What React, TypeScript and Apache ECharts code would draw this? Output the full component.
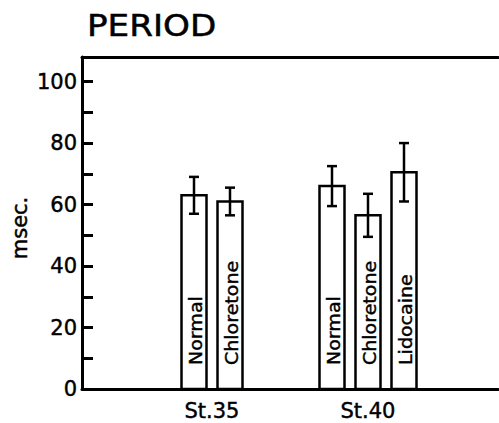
import React, { useEffect, useRef } from "react";
import * as echarts from "echarts";

// ---- data ----
const xSlots = ["", "", "St.35", "", "", "St.40", "", ""];
const groups = ["St.35", "St.40"];
const st35Labels = ["Normal", "Chloretone"];
const st35Means = [63, 61];
const st35Errors = [6, 4.5];
const st40Labels = ["Normal", "Chloretone", "Lidocaine"];
const st40Means = [66, 56.5, 70.5];
const st40Errors = [6.5, 7, 9.5];
const yLabelValues = [0, 20, 40, 60, 80, 100];
const yMax = 108;

const FONT = '"DejaVu Sans", "Liberation Sans", sans-serif';
const HEAVY = 0.45;

export default function App() {
  const ref = useRef<HTMLDivElement>(null);

  useEffect(() => {
    if (!ref.current) return;
    const chart = echarts.init(ref.current, undefined, { renderer: "svg" });

    const groupData = [
      { g: groups[0], labels: st35Labels, means: st35Means, errs: st35Errors },
      { g: groups[1], labels: st40Labels, means: st40Means, errs: st40Errors },
    ];
    const rows: number[][] = [];
    const names: string[] = [];
    groupData.forEach((gd) => {
      const xi = xSlots.indexOf(gd.g);
      gd.means.forEach((m, i) => {
        rows.push([xi, m, gd.errs[i], i, gd.means.length]);
        names.push(gd.labels[i]);
      });
    });

    const BAR_STEP = 36;
    const BW = 25;
    const CAP = 5;

    const option: any = {
      animation: false,
      grid: { left: 82, right: 1, top: 57, bottom: 34, containLabel: false },
      xAxis: [
        {
          type: "category",
          data: xSlots,
          position: "bottom",
          axisLine: { lineStyle: { color: "#000", width: 3 } },
          axisTick: { show: false },
          axisLabel: {
            interval: 0,
            color: "#000",
            fontSize: 21,
            fontFamily: FONT,
            margin: 11,
            textBorderColor: "#000",
            textBorderWidth: HEAVY,
          },
          splitLine: { show: false },
        },
        {
          type: "category",
          data: xSlots,
          position: "top",
          axisLine: { lineStyle: { color: "#000", width: 3 } },
          axisTick: { show: false },
          axisLabel: { show: false },
          splitLine: { show: false },
        },
      ],
      yAxis: {
        type: "value",
        min: 0,
        max: yMax,
        interval: 10,
        axisLine: { show: true, lineStyle: { color: "#000", width: 3 } },
        axisTick: {
          show: true,
          inside: true,
          length: 11,
          lineStyle: { color: "#000", width: 3 },
        },
        axisLabel: {
          color: "#000",
          fontSize: 21,
          fontFamily: FONT,
          margin: 5,
          textBorderColor: "#000",
          textBorderWidth: HEAVY,
          formatter: (v: number) => (yLabelValues.indexOf(v) >= 0 ? String(v) : ""),
        },
        splitLine: { show: false },
      },
      graphic: [
        {
          type: "text",
          x: 87,
          y: 26,
          scaleX: 1.14,
          style: {
            text: "PERIOD",
            font: `30px ${FONT}`,
            fill: "#000",
            stroke: "#000",
            lineWidth: 0.5,
            align: "left",
            verticalAlign: "middle",
          },
        },
        {
          type: "text",
          x: 20,
          y: 228,
          rotation: Math.PI / 2,
          style: {
            text: "msec.",
            font: `21px ${FONT}`,
            fill: "#000",
            stroke: "#000",
            lineWidth: HEAVY,
            align: "center",
            verticalAlign: "middle",
          },
        },
      ],
      series: [
        {
          type: "custom",
          xAxisIndex: 0,
          yAxisIndex: 0,
          encode: { x: 0, y: 1 },
          data: rows,
          renderItem: (params: any, api: any) => {
            const xi = api.value(0);
            const m = api.value(1);
            const e = api.value(2);
            const k = api.value(3);
            const n = api.value(4);
            const base = api.coord([xi, 0]);
            const cx = base[0] + (k - (n - 1) / 2) * BAR_STEP;
            const yTop = api.coord([xi, m])[1];
            const yHi = api.coord([xi, m + e])[1];
            const yLo = api.coord([xi, m - e])[1];
            const lineStyle = { stroke: "#000", lineWidth: 2.5 };
            return {
              type: "group",
              children: [
                {
                  type: "rect",
                  shape: { x: cx - BW / 2, y: yTop, width: BW, height: base[1] - yTop },
                  style: { fill: "#fff", stroke: "#000", lineWidth: 2.5 },
                },
                {
                  type: "text",
                  x: cx + 2,
                  y: base[1] - 24,
                  rotation: Math.PI / 2,
                  scaleX: 1.12,
                  style: {
                    text: names[params.dataIndex],
                    font: `17px ${FONT}`,
                    fill: "#000",
                    stroke: "#000",
                    lineWidth: 0.4,
                    align: "left",
                    verticalAlign: "middle",
                  },
                },
                { type: "line", shape: { x1: cx, y1: yHi, x2: cx, y2: yLo }, style: lineStyle },
                { type: "line", shape: { x1: cx - CAP, y1: yHi, x2: cx + CAP, y2: yHi }, style: lineStyle },
                { type: "line", shape: { x1: cx - CAP, y1: yLo, x2: cx + CAP, y2: yLo }, style: lineStyle },
              ],
            };
          },
        },
      ],
    };

    chart.setOption(option);
    return () => chart.dispose();
  }, []);

  return (
    <div
      ref={ref}
      style={{ position: "absolute", left: 0, top: 0, width: 499, height: 423, background: "#fff" }}
    />
  );
}
